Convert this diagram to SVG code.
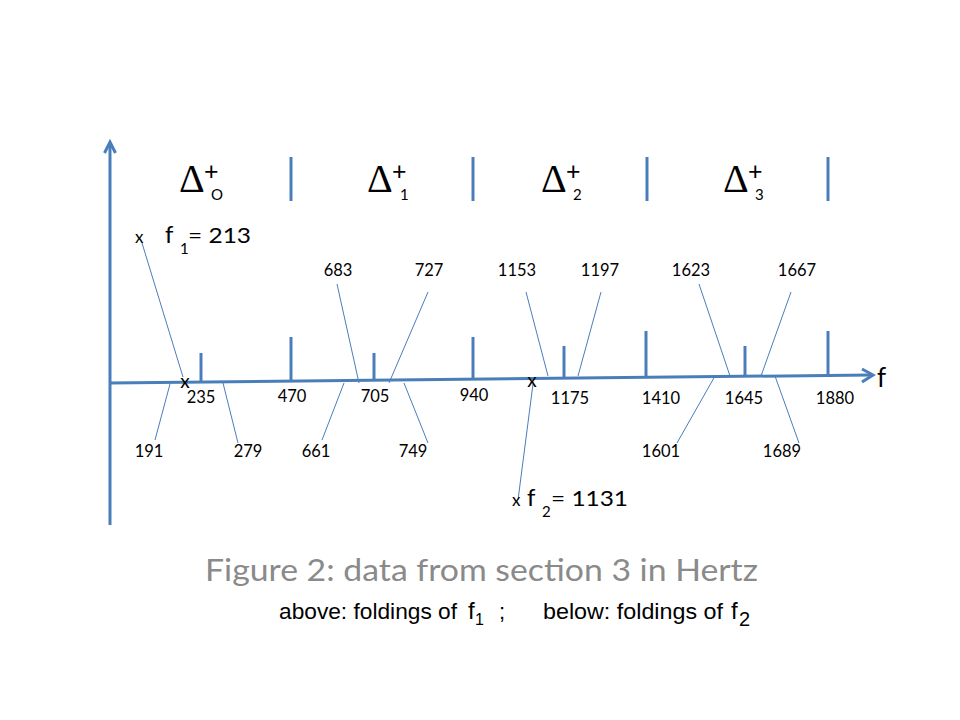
<svg xmlns="http://www.w3.org/2000/svg" width="960" height="720" viewBox="0 0 960 720">
<style>
.ax{stroke:#4a7ebb;stroke-width:3;fill:none}
.tk{stroke:#4a7ebb;stroke-width:3}
.cn{stroke:#4a7ebb;stroke-width:1;fill:none}
.t{font-family:Lato,"Liberation Sans",sans-serif;fill:#000}
.num{font-family:Lato,"Liberation Sans",sans-serif;font-size:16.5px;fill:#000;text-anchor:middle}
.dl{font-family:"Liberation Serif",serif;font-size:40px;fill:#000}
.ar{font-family:"Liberation Sans",Arial,sans-serif;fill:#000}
</style>
<rect width="960" height="720" fill="#fff"/>
<g id="axes">
<line class="ax" x1="110" y1="525" x2="110" y2="143"/>
<polyline class="ax" points="104.5,153 110,142 115.5,153" stroke-width="2"/>
<line class="ax" x1="110" y1="383" x2="871" y2="375"/>
<polyline class="ax" points="862,369 873,375 862,382" stroke-width="2.5"/>
<text class="t" x="877" y="387" font-size="26">f</text>
</g>
<g id="separators">
<line class="tk" x1="291" y1="157" x2="291" y2="201"/>
<line class="tk" x1="473" y1="157" x2="473" y2="201"/>
<line class="tk" x1="647" y1="157" x2="647" y2="201"/>
<line class="tk" x1="828" y1="157" x2="828" y2="201"/>
</g>
<g id="deltas">
<text class="dl" x="179" y="192">Δ</text><text class="t" x="204" y="180" font-size="25">+</text><text class="t" x="211" y="200" font-size="15">O</text>
<text class="dl" x="367" y="192">Δ</text><text class="t" x="392" y="180" font-size="25">+</text><text class="t" x="400" y="200" font-size="15">1</text>
<text class="dl" x="541" y="192">Δ</text><text class="t" x="566" y="180" font-size="25">+</text><text class="t" x="573" y="200" font-size="15">2</text>
<text class="dl" x="723" y="192">Δ</text><text class="t" x="748" y="180" font-size="25">+</text><text class="t" x="755" y="200" font-size="15">3</text>
</g>
<g id="ticks">
<line class="tk" x1="201" y1="353" x2="201" y2="382"/>
<line class="tk" x1="291" y1="337" x2="291" y2="381"/>
<line class="tk" x1="374" y1="353" x2="374" y2="380"/>
<line class="tk" x1="473" y1="337" x2="473" y2="379"/>
<line class="tk" x1="564" y1="346" x2="564" y2="377"/>
<line class="tk" x1="646" y1="331" x2="646" y2="377"/>
<line class="tk" x1="745" y1="346" x2="745" y2="376"/>
<line class="tk" x1="828" y1="331" x2="828" y2="375"/>
</g>
<g id="connectors">
<line class="cn" x1="142" y1="243" x2="183" y2="377"/>
<line class="cn" x1="533" y1="384" x2="518" y2="500"/>
<line class="cn" x1="155" y1="440" x2="170" y2="384"/>
<line class="cn" x1="238" y1="443" x2="223" y2="383"/>
<line class="cn" x1="322" y1="440" x2="344" y2="383"/>
<line class="cn" x1="428" y1="443" x2="404" y2="383"/>
<line class="cn" x1="337" y1="284" x2="359" y2="383"/>
<line class="cn" x1="428" y1="292" x2="389" y2="383"/>
<line class="cn" x1="526" y1="292" x2="548" y2="376"/>
<line class="cn" x1="601" y1="292" x2="578" y2="376"/>
<line class="cn" x1="699" y1="284" x2="730" y2="376"/>
<line class="cn" x1="791" y1="292" x2="761" y2="376"/>
<line class="cn" x1="677" y1="443" x2="715" y2="376"/>
<line class="cn" x1="799" y1="443" x2="775" y2="376"/>
</g>
<g id="markers">
<text class="t" x="185" y="388" font-size="19" text-anchor="middle">x</text>
<text class="t" x="532" y="387" font-size="19" text-anchor="middle">x</text>
</g>
<g id="f1-label">
<text class="t" x="135" y="243" font-size="17">x</text>
<text class="t" x="165" y="243" font-size="24">f</text>
<text class="t" x="180" y="254" font-size="15">1</text>
<text class="t" x="188" y="243" font-size="22" textLength="63" lengthAdjust="spacingAndGlyphs">= 213</text>
</g>
<g id="f2-label">
<text class="t" x="512" y="506" font-size="17">x</text>
<text class="t" x="527" y="506" font-size="24">f</text>
<text class="t" x="542" y="517" font-size="15">2</text>
<text class="t" x="551" y="506" font-size="22" textLength="77" lengthAdjust="spacingAndGlyphs">= 1131</text>
</g>
<g id="axis-labels">
<text class="num" x="201" y="403">235</text>
<text class="num" x="292" y="402">470</text>
<text class="num" x="375" y="402">705</text>
<text class="num" x="474" y="401">940</text>
<text class="num" x="570" y="404">1175</text>
<text class="num" x="661" y="404">1410</text>
<text class="num" x="744" y="404">1645</text>
<text class="num" x="835" y="404">1880</text>
</g>
<g id="upper-labels">
<text class="num" x="338" y="276">683</text>
<text class="num" x="429" y="276">727</text>
<text class="num" x="517" y="276">1153</text>
<text class="num" x="600" y="276">1197</text>
<text class="num" x="691" y="276">1623</text>
<text class="num" x="797" y="276">1667</text>
</g>
<g id="lower-labels">
<text class="num" x="149" y="457">191</text>
<text class="num" x="248" y="457">279</text>
<text class="num" x="316" y="457">661</text>
<text class="num" x="413" y="457">749</text>
<text class="num" x="661" y="457">1601</text>
<text class="num" x="782" y="457">1689</text>
</g>
<g id="caption">
<text class="t" x="205" y="581" font-size="31" style="fill:#8a8a8a" textLength="553" lengthAdjust="spacingAndGlyphs">Figure 2: data from section 3 in Hertz</text>
<text class="ar" x="279" y="619" font-size="22" textLength="178" lengthAdjust="spacingAndGlyphs">above:  foldings of</text>
<text class="ar" x="468" y="619" font-size="24">f</text>
<text class="ar" x="475" y="625" font-size="16">1</text>
<text class="ar" x="499" y="619" font-size="22">;</text>
<text class="ar" x="543" y="619" font-size="22" textLength="180" lengthAdjust="spacingAndGlyphs">below: foldings of</text>
<text class="ar" x="731" y="619" font-size="24">f</text>
<text class="ar" x="739" y="626" font-size="20">2</text>
</g>
</svg>
